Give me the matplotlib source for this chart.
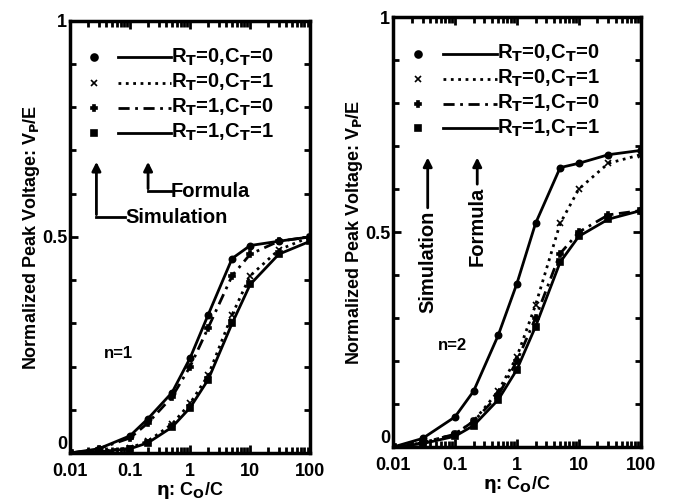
import matplotlib
matplotlib.use('Agg')
import matplotlib.pyplot as plt
from matplotlib.ticker import FixedLocator, LogLocator, NullFormatter

plt.rcParams.update({
    'font.family': ['Liberation Sans', 'DejaVu Sans'],
    'font.weight': 'bold',
    'axes.labelweight': 'bold',
    'mathtext.default': 'bf',
    'font.size': 13,
})

# ---- data ----
eta = [0.01, 0.03, 0.1, 0.2, 0.5, 1, 2, 5, 10, 30, 100]

# n = 1 panel
n1_r0c0 = [0.0, 0.01, 0.04, 0.08, 0.14, 0.22, 0.32, 0.45, 0.48, 0.49, 0.50]
n1_r0c1 = [0.0, 0.004, 0.012, 0.028, 0.067, 0.115, 0.18, 0.32, 0.41, 0.47, 0.50]
n1_r1c0 = [0.0, 0.01, 0.035, 0.07, 0.13, 0.20, 0.29, 0.41, 0.46, 0.49, 0.50]
n1_r1c1 = [0.0, 0.003, 0.01, 0.024, 0.06, 0.105, 0.17, 0.30, 0.39, 0.46, 0.49]

# n = 2 panel
n2_r0c0 = [0.0, 0.02, 0.07, 0.13, 0.26, 0.38, 0.52, 0.65, 0.66, 0.68, 0.69]
n2_r0c1 = [0.0, 0.01, 0.03, 0.06, 0.13, 0.21, 0.33, 0.52, 0.60, 0.66, 0.68]
n2_r1c0 = [0.0, 0.01, 0.03, 0.06, 0.12, 0.20, 0.30, 0.45, 0.50, 0.54, 0.55]
n2_r1c1 = [0.0, 0.008, 0.025, 0.05, 0.11, 0.18, 0.28, 0.43, 0.49, 0.53, 0.55]

labels = [r'R$_T$=0,C$_T$=0', r'R$_T$=0,C$_T$=1',
          r'R$_T$=1,C$_T$=0', r'R$_T$=1,C$_T$=1']
styles = ['-', ':', (0, (4, 2, 1, 2)), '-']
markers = ['o', 'x', 'P', 's']

xticks = [0.01, 0.1, 1, 10, 100]
xticklabels = ['0.01', '0.1', '1', '10', '100']


def setup_axes(ax):
    ax.set_xscale('log')
    ax.set_xlim(0.01, 100)
    ax.set_ylim(0, 1)
    ax.set_xticks(xticks)
    ax.set_xticklabels(xticklabels)
    ax.xaxis.set_minor_locator(LogLocator(base=10, subs=range(2, 10)))
    ax.xaxis.set_minor_formatter(NullFormatter())
    ax.yaxis.set_major_locator(FixedLocator([0, 0.5, 1]))
    ax.set_yticklabels(['0', '0.5', '1'])
    # lift the "0" a little so it sits above the "0.01"
    ax.get_yticklabels()[0].set_verticalalignment('bottom')
    ax.yaxis.set_minor_locator(FixedLocator([0.1, 0.2, 0.3, 0.4, 0.6, 0.7, 0.8, 0.9]))
    ax.tick_params(which='both', direction='in', top=True, right=True, width=2)
    ax.tick_params(which='major', length=6)
    ax.tick_params(axis='x', which='major', pad=7)
    ax.tick_params(axis='y', which='major', pad=2)
    ax.tick_params(which='minor', length=4)
    for s in ax.spines.values():
        s.set_linewidth(2.5)
    ax.set_xlabel(r'$\eta$: C$_O$/C', labelpad=0)
    ax.set_ylabel(r'Normalized Peak Voltage: V$_P$/E', labelpad=0)


def draw_curves(ax, series):
    for ys, ls, mk in zip(series, styles, markers):
        ax.plot(eta, ys, color='black', lw=2, ls=ls, marker=mk, ms=4.5,
                mfc='black', mec='black', mew=1.2)


def draw_legend(ax, y0, dy):
    for i, (lab, ls, mk) in enumerate(zip(labels, styles, markers)):
        y = y0 - i * dy
        ax.plot([0.1], [y], marker=mk, color='black', ms=5, mew=1.2,
                transform=ax.transAxes, clip_on=False)
        ax.plot([0.2, 0.42], [y, y], color='black', lw=2, ls=ls,
                transform=ax.transAxes)
        ax.text(0.42, y, lab, transform=ax.transAxes, va='center', ha='left',
                fontsize=14.5)


fig = plt.figure(figsize=(6.73, 5.04), dpi=100)

# left panel (n=1)
ax1 = fig.add_axes([0.104, 0.101, 0.357, 0.858])
draw_curves(ax1, [n1_r0c0, n1_r0c1, n1_r1c0, n1_r1c1])
setup_axes(ax1)
draw_legend(ax1, 0.915, 0.058)
# arrows in axes fraction
ax1.annotate('', xy=(0.11, 0.68), xytext=(0.11, 0.545),
             xycoords='axes fraction',
             arrowprops=dict(arrowstyle='-|>', color='black', lw=2))
ax1.plot([0.11, 0.23], [0.545, 0.545], color='black', lw=2, transform=ax1.transAxes)
ax1.text(0.23, 0.545, 'Simulation', transform=ax1.transAxes, va='center', fontsize=14.5)
ax1.annotate('', xy=(0.325, 0.68), xytext=(0.325, 0.605),
             xycoords='axes fraction',
             arrowprops=dict(arrowstyle='-|>', color='black', lw=2))
ax1.plot([0.325, 0.42], [0.605, 0.605], color='black', lw=2, transform=ax1.transAxes)
ax1.text(0.42, 0.605, 'Formula', transform=ax1.transAxes, va='center', fontsize=14.5)
ax1.text(0.14, 0.22, 'n=1', transform=ax1.transAxes, fontsize=12)

# right panel (n=2)
ax2 = fig.add_axes([0.584, 0.113, 0.368, 0.853])
draw_curves(ax2, [n2_r0c0, n2_r0c1, n2_r1c0, n2_r1c1])
setup_axes(ax2)
draw_legend(ax2, 0.915, 0.058)
ax2.annotate('', xy=(0.14, 0.68), xytext=(0.14, 0.55),
             xycoords='axes fraction',
             arrowprops=dict(arrowstyle='-|>', color='black', lw=2))
ax2.text(0.14, 0.55, 'Simulation', transform=ax2.transAxes, rotation=90,
         ha='center', va='top', fontsize=14.5)
ax2.annotate('', xy=(0.34, 0.68), xytext=(0.34, 0.605),
             xycoords='axes fraction',
             arrowprops=dict(arrowstyle='-|>', color='black', lw=2))
ax2.text(0.34, 0.605, 'Formula', transform=ax2.transAxes, rotation=90,
         ha='center', va='top', fontsize=14.5)
ax2.text(0.18, 0.225, 'n=2', transform=ax2.transAxes, fontsize=12)

fig.savefig('out.png', dpi=100)
